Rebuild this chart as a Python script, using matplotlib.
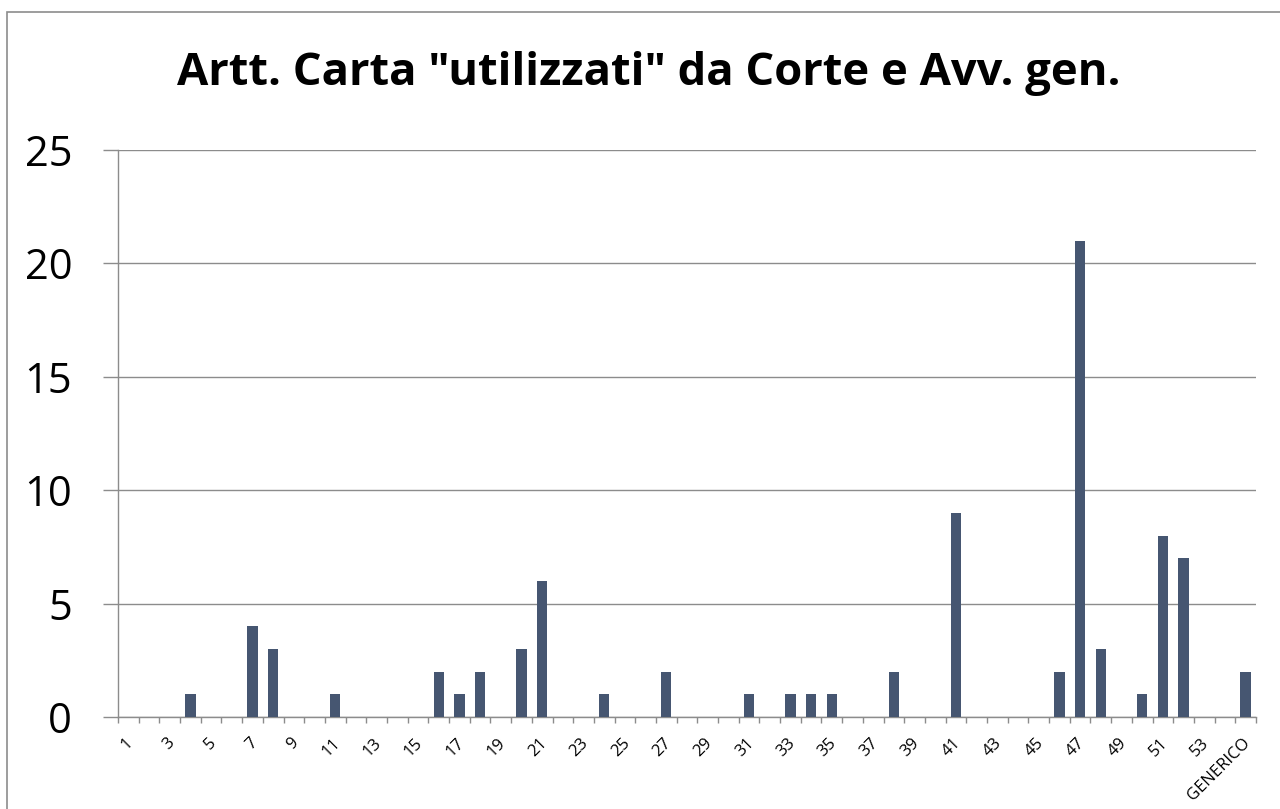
import numpy as np
import matplotlib.pyplot as plt
import matplotlib.patches as patches
import matplotlib.transforms as mtransforms

# Articoli 1..54 più la voce "GENERICO"
articoli = [str(i) for i in range(1, 55)] + ['GENERICO']
conteggi = {'4': 1, '7': 4, '8': 3, '11': 1, '16': 2, '17': 1, '18': 2,
            '20': 3, '21': 6, '24': 1, '27': 2, '31': 1, '33': 1, '34': 1,
            '35': 1, '38': 2, '41': 9, '46': 2, '47': 21, '48': 3, '50': 1,
            '51': 8, '52': 7, 'GENERICO': 2}
valori = [conteggi.get(a, 0) for a in articoli]

plt.rcParams['font.family'] = ['Open Sans', 'DejaVu Sans']

fig = plt.figure(figsize=(12.8, 8.09), dpi=100)
ax = fig.add_axes([118 / 1280, 1 - 717 / 809, (1256 - 118) / 1280, (717 - 150) / 809])

x = np.arange(len(articoli))
ax.bar(x, valori, width=0.5, color='#465671', zorder=3)

ax.set_xlim(-0.5, len(articoli) - 0.5)
ax.set_ylim(0, 25)
ax.set_yticks(np.arange(0, 26, 5))
ax.yaxis.grid(True, color='#8c8c8c', linewidth=1.0, zorder=0)
ax.tick_params(axis='y', labelsize=30, length=11, color='#8c8c8c', width=1, pad=22)

# etichette ogni due articoli, tacche ad ogni confine di categoria
ax.set_xticks(x[::2])
ax.set_xticklabels([articoli[i] for i in x[::2]], rotation=45, ha='right', va='top', fontsize=12)
ax.set_xticks(np.arange(-0.5, len(articoli)), minor=True)
ax.tick_params(axis='x', which='major', length=0, pad=13)
ax.tick_params(axis='x', which='minor', length=4.5, color='#8c8c8c', width=1)
shift = mtransforms.ScaledTranslation(8 / 100, 0, fig.dpi_scale_trans)
for lab in ax.get_xticklabels():
    lab.set_transform(lab.get_transform() + shift)

for s in ['top', 'right']:
    ax.spines[s].set_visible(False)
for s in ['left', 'bottom']:
    ax.spines[s].set_color('#8c8c8c')
    ax.spines[s].set_linewidth(1)

fig.text(649 / 1280, 1 - 73 / 809, 'Artt. Carta "utilizzati" da Corte e Avv. gen.',
         ha='center', va='center', fontsize=32.7, fontweight='bold')

# cornice esterna del grafico
fig.patches.append(patches.Rectangle((7 / 1280, -0.1), 1.2, 1 - 12 / 809 + 0.1,
                                     transform=fig.transFigure, fill=False,
                                     edgecolor='#8c8c8c', linewidth=1.2))

fig.savefig('out.png', dpi=100)
